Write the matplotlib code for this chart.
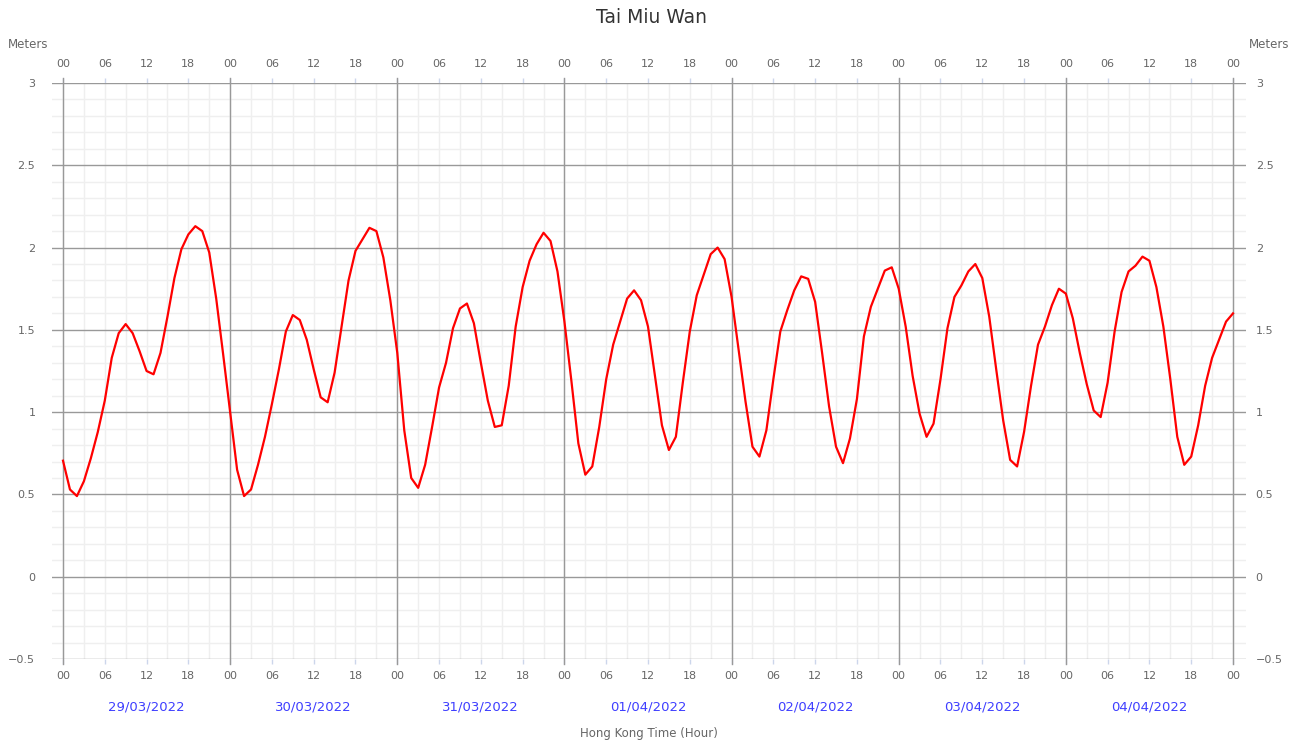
import numpy as np
import matplotlib
matplotlib.use("Agg")
import matplotlib.pyplot as plt
from matplotlib.ticker import MultipleLocator

plt.rcParams["font.family"] = ["DejaVu Sans"]

station = "Tai Miu Wan"
x_title = "Hong Kong Time (Hour)"
y_title = "Meters"
dates = ["29/03/2022", "30/03/2022", "31/03/2022", "01/04/2022",
         "02/04/2022", "03/04/2022", "04/04/2022"]
hour_labels = ["00", "06", "12", "18"]

# hourly predicted tide level (m), 29/03 00:00 to 05/04 00:00
tide_levels = [
    0.705, 0.53, 0.49, 0.58, 0.72, 0.88, 1.07, 1.33, 1.48, 1.535, 1.48, 1.37,
    1.25, 1.23, 1.36, 1.58, 1.815, 1.99, 2.08, 2.13, 2.10, 1.97, 1.69, 1.35,
    1.00, 0.65, 0.49, 0.53, 0.68, 0.85, 1.05, 1.26, 1.49, 1.59, 1.56, 1.44,
    1.26, 1.09, 1.06, 1.24, 1.52, 1.80, 1.98, 2.05, 2.12, 2.10, 1.94, 1.68,
    1.36, 0.89, 0.60, 0.54, 0.68, 0.91, 1.15, 1.30, 1.51, 1.63, 1.66, 1.54,
    1.30, 1.07, 0.91, 0.92, 1.16, 1.52, 1.76, 1.92, 2.02, 2.09, 2.04, 1.855,
    1.55, 1.19, 0.81, 0.62, 0.67, 0.91, 1.20, 1.41, 1.55, 1.69, 1.74, 1.68,
    1.52, 1.22, 0.92, 0.77, 0.85, 1.18, 1.49, 1.71, 1.835, 1.96, 2.00, 1.93,
    1.70, 1.38, 1.065, 0.79, 0.73, 0.89, 1.20, 1.49, 1.62, 1.74, 1.825, 1.81,
    1.67, 1.36, 1.035, 0.79, 0.69, 0.84, 1.08, 1.46, 1.64, 1.75, 1.86, 1.88,
    1.75, 1.52, 1.22, 0.99, 0.85, 0.93, 1.20, 1.51, 1.70, 1.77, 1.855, 1.90,
    1.815, 1.58, 1.26, 0.95, 0.71, 0.67, 0.88, 1.16, 1.41, 1.52, 1.65, 1.75,
    1.72, 1.57, 1.36, 1.17, 1.01, 0.97, 1.18, 1.49, 1.73, 1.855, 1.89, 1.945,
    1.92, 1.76, 1.52, 1.20, 0.85, 0.68, 0.73, 0.92, 1.16, 1.33, 1.44, 1.55,
    1.60,
]

y_min, y_max = -0.5, 3.0

W, H = 1303, 745
fig = plt.figure(figsize=(W / 100, H / 100), dpi=100)
ax = fig.add_axes([52 / W, 86 / H, 1194 / W, 576 / H])

hours = np.arange(len(tide_levels))
n_hours = hours[-1]
px_per_hour = 1170 / n_hours
ax.set_xlim(-11 / px_per_hour, n_hours + 13 / px_per_hour)
ax.set_ylim(y_min, y_max)

for s in ax.spines.values():
    s.set_visible(False)

# grid: light 3-hour / 0.1 m lines, darker 0.5 m lines and day separators
ax.xaxis.set_minor_locator(MultipleLocator(3))
ax.yaxis.set_minor_locator(MultipleLocator(0.1))
ax.grid(which="both", axis="x", color="#efefef", lw=1)
ax.grid(which="minor", axis="y", color="#efefef", lw=1)
ax.grid(which="major", axis="y", color="#999999", lw=1)
for d in range(0, n_hours + 1, 24):
    ax.axvline(d, ymin=-0.009, ymax=1.009, color="#999999", lw=1,
               clip_on=False, zorder=1.5)
ax.set_axisbelow(True)

# hour ticks on bottom
xt = np.arange(0, n_hours + 1, 6)
xlabels = [hour_labels[(t // 6) % 4] for t in xt]
ax.set_xticks(xt)
ax.set_xticklabels(xlabels)
ax.tick_params(axis="x", which="major", top=False, bottom=True,
               labeltop=False, labelbottom=True, direction="out",
               length=3.6, width=1, color="#ccd6eb", labelcolor="#666666",
               labelsize=8, pad=5)
ax.tick_params(axis="x", which="minor", length=0)

# hour ticks on top
top = ax.secondary_xaxis("top")
top.set_xticks(xt)
top.set_xticklabels(xlabels)
top.tick_params(axis="x", direction="out", length=3.6, width=1,
                color="#ccd6eb", labelcolor="#666666", labelsize=8, pad=6.5)
for s in top.spines.values():
    s.set_visible(False)

yt = np.arange(y_min, y_max + 0.01, 0.5)
ylabels = [("%g" % v).replace("-", "\u2212") for v in yt]
ax.set_yticks(yt)
ax.set_yticklabels(ylabels)
ax.tick_params(axis="y", which="both", length=0, labelcolor="#666666",
               labelsize=8, pad=12)

ax2 = ax.twinx()
ax2.set_ylim(y_min, y_max)
for s in ax2.spines.values():
    s.set_visible(False)
ax2.set_yticks(yt)
ax2.set_yticklabels(ylabels)
ax2.tick_params(axis="y", length=0, labelcolor="#666666", labelsize=8, pad=7)

ax.plot(hours, tide_levels, color="#ff0000", lw=1.6, zorder=3,
        solid_joinstyle="round")

# date row below the hour labels
tr = ax.get_xaxis_transform()
for i, d in enumerate(dates):
    ax.text(12 + 24 * i, -(707 - 659) / 576, d, transform=tr, ha="center",
            va="center", fontsize=9.5, color="#3e3eff")

ax.text(0.5, -(733 - 659) / 576, x_title, transform=ax.transAxes,
        ha="center", va="center", fontsize=8.5, color="#666666")

fig.text(0.5, 1 - 17.5 / H, station, ha="center", va="center",
         fontsize=13.5, color="#333333")
fig.text(28 / W, 1 - 45 / H, y_title, ha="center", va="center",
         fontsize=8.5, color="#666666")
fig.text(1269 / W, 1 - 45 / H, y_title, ha="center", va="center",
         fontsize=8.5, color="#666666")

fig.savefig("out.png", dpi=100, facecolor="white")
